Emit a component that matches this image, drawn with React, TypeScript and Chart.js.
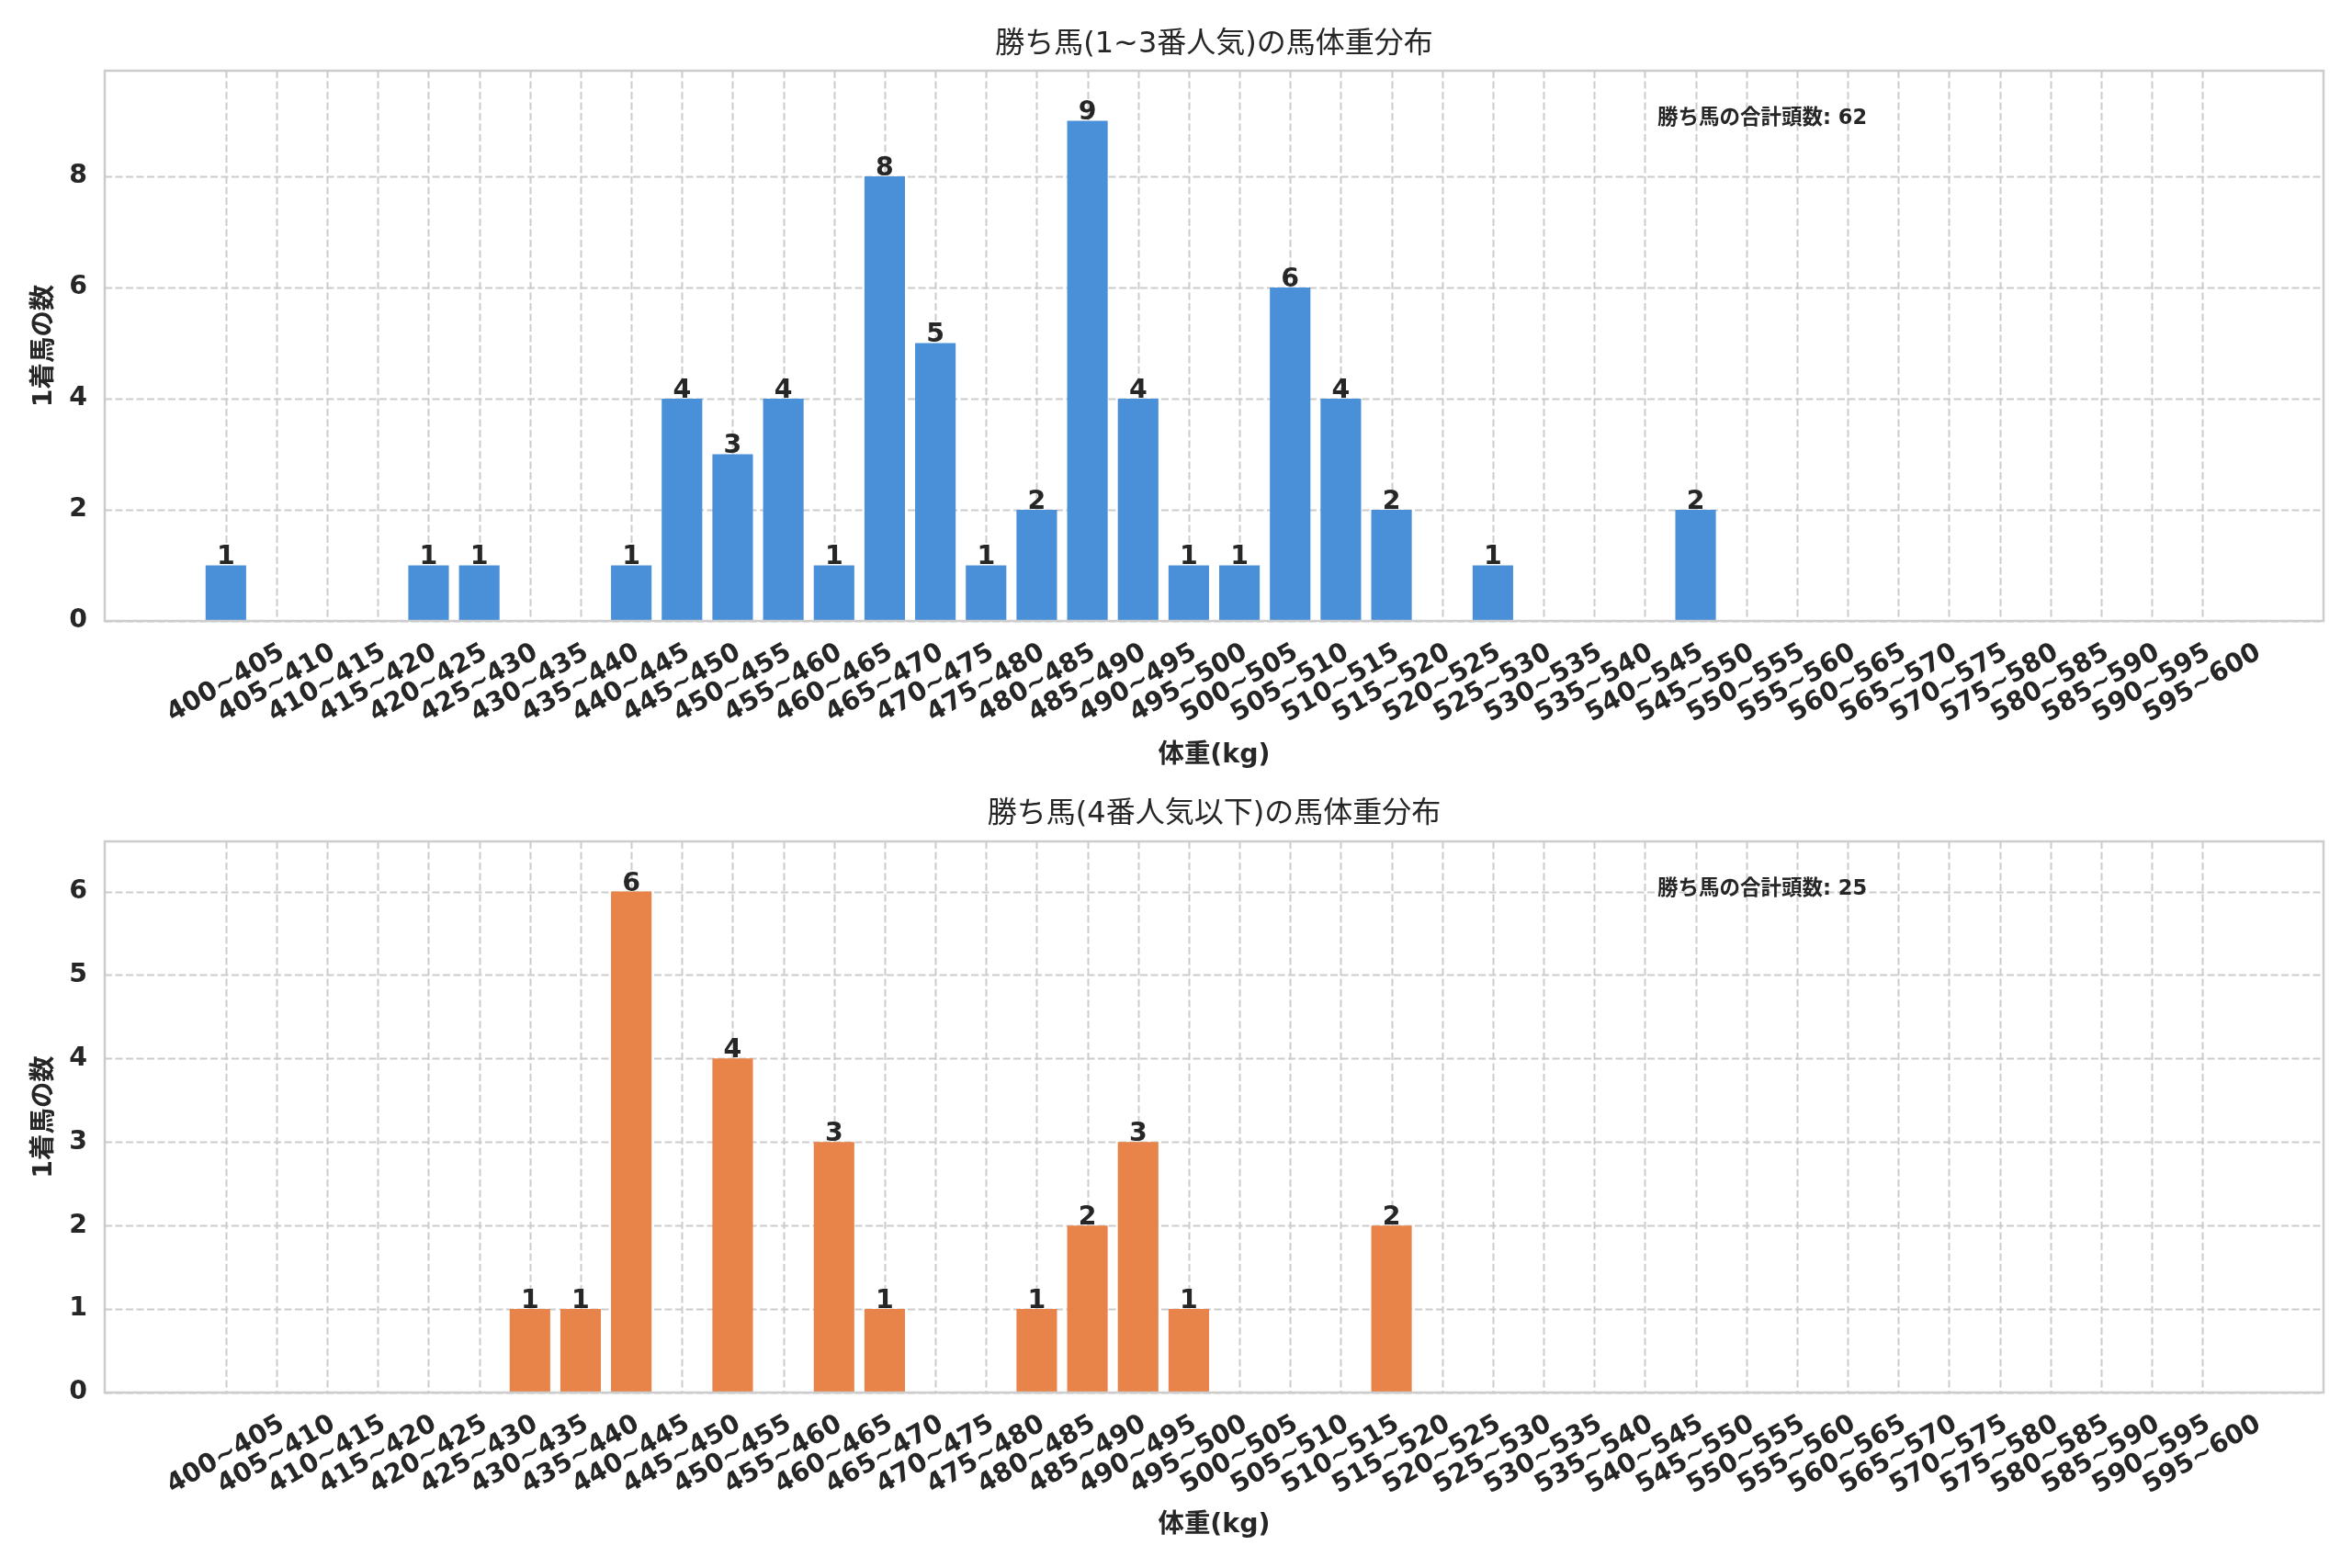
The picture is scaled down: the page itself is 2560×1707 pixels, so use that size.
import React, { useEffect, useRef } from "react";
import { Chart, registerables } from "chart.js";

Chart.register(...registerables);

// ---------- data ----------
const categories = [
  "400~405", "405~410", "410~415", "415~420", "420~425", "425~430", "430~435", "435~440",
  "440~445", "445~450", "450~455", "455~460", "460~465", "465~470", "470~475", "475~480",
  "480~485", "485~490", "490~495", "495~500", "500~505", "505~510", "510~515", "515~520",
  "520~525", "525~530", "530~535", "535~540", "540~545", "545~550", "550~555", "555~560",
  "560~565", "565~570", "570~575", "575~580", "580~585", "585~590", "590~595", "595~600",
];

const countsPopular = [
  1, 0, 0, 0, 1, 1, 0, 0, 1, 4,
  3, 4, 1, 8, 5, 1, 2, 9, 4, 1,
  1, 6, 4, 2, 0, 1, 0, 0, 0, 2,
  0, 0, 0, 0, 0, 0, 0, 0, 0, 0,
];

const countsLongshot = [
  0, 0, 0, 0, 0, 0, 1, 1, 6, 0,
  4, 0, 3, 1, 0, 0, 1, 2, 3, 1,
  0, 0, 0, 2, 0, 0, 0, 0, 0, 0,
  0, 0, 0, 0, 0, 0, 0, 0, 0, 0,
];

const yTicksPopular = [0, 2, 4, 6, 8];
const yTicksLongshot = [0, 1, 2, 3, 4, 5, 6];

const titlePopular = "勝ち馬(1~3番人気)の馬体重分布";
const titleLongshot = "勝ち馬(4番人気以下)の馬体重分布";
const xAxisTitle = "体重(kg)";
const yAxisTitle = "1着馬の数";
const notePrefix = "勝ち馬の合計頭数";

// ---------- style ----------
const FONT = '"DejaVu Sans", "Noto Sans CJK JP", sans-serif';
const TEXT = "#262626";
const GRID = "#cccccc";
const W = 2560;
const PLOT_LEFT = 114;
const PLOT_RIGHT = 2529;
const TICK_SIZE = 28.4;

type PanelProps = {
  top: number;
  height: number;
  values: number[];
  color: string;
  title: string;
  yMax: number;
  yTicks: number[];
  plotTop: number;
  plotBottom: number;
  titleY: number;
  xTitleY: number;
  noteY: number;
};

function Panel(p: PanelProps) {
  const ref = useRef<HTMLCanvasElement | null>(null);

  useEffect(() => {
    const canvas = ref.current;
    if (!canvas) return;
    const total = p.values.reduce((a, b) => a + b, 0);

    const decor = {
      id: "decor",
      beforeDatasetsDraw(chart: any) {
        const ctx = chart.ctx;
        const area = chart.chartArea;
        const xs = chart.scales.x;
        const ys = chart.scales.y;
        ctx.save();
        ctx.strokeStyle = GRID;
        ctx.lineWidth = 2;
        ctx.setLineDash([8, 3.5]);
        for (const t of p.yTicks) {
          const y = Math.round(ys.getPixelForValue(t)) + 0.5;
          ctx.beginPath();
          ctx.moveTo(area.left, y);
          ctx.lineTo(area.right, y);
          ctx.stroke();
        }
        for (let i = 0; i < categories.length; i++) {
          const x = Math.round(xs.getPixelForValue(i)) + 0.5;
          ctx.beginPath();
          ctx.moveTo(x, area.top);
          ctx.lineTo(x, area.bottom);
          ctx.stroke();
        }
        ctx.restore();
      },
      afterDatasetsDraw(chart: any) {
        const ctx = chart.ctx;
        const area = chart.chartArea;
        const xs = chart.scales.x;
        const ys = chart.scales.y;
        ctx.save();
        // frame
        ctx.strokeStyle = GRID;
        ctx.lineWidth = 2.5;
        ctx.setLineDash([]);
        ctx.strokeRect(area.left, area.top, area.right - area.left, area.bottom - area.top);

        // bar value labels
        ctx.fillStyle = TEXT;
        ctx.font = `bold ${TICK_SIZE}px ${FONT}`;
        ctx.textAlign = "center";
        ctx.textBaseline = "alphabetic";
        p.values.forEach((v, i) => {
          if (v > 0) {
            ctx.fillText(String(v), xs.getPixelForValue(i), ys.getPixelForValue(v) - 1);
          }
        });

        // x tick labels (rotated 30°, centered on tick)
        const ang = (30 * Math.PI) / 180;
        const h = 29;
        categories.forEach((lab, i) => {
          const w = ctx.measureText(lab).width;
          const H = w * Math.sin(ang) + h * Math.cos(ang);
          const cx = xs.getPixelForValue(i);
          const cy = area.bottom + 20 + H / 2;
          ctx.save();
          ctx.translate(cx, cy);
          ctx.rotate(-ang);
          ctx.textAlign = "center";
          ctx.textBaseline = "middle";
          ctx.fillText(lab, 0, 0);
          ctx.restore();
        });

        // x axis title
        ctx.textAlign = "center";
        ctx.textBaseline = "middle";
        ctx.fillText(xAxisTitle, (area.left + area.right) / 2, p.xTitleY);

        // y axis title
        ctx.save();
        ctx.translate(49, (area.top + area.bottom) / 2);
        ctx.rotate(-Math.PI / 2);
        ctx.fillText(yAxisTitle, 0, 0);
        ctx.restore();

        // title
        ctx.font = `32px ${FONT}`;
        ctx.fillText(p.title, (area.left + area.right) / 2, p.titleY);

        // note
        ctx.font = `bold 22.5px ${FONT}`;
        ctx.textAlign = "left";
        ctx.fillText(`${notePrefix}: ${total}`, 1804, p.noteY);
        ctx.restore();
      },
    };

    const chart = new Chart(canvas, {
      type: "bar",
      data: {
        datasets: [
          {
            data: p.values.map((v, i) => ({ x: i, y: v })),
            backgroundColor: p.color,
            borderWidth: 0,
            barPercentage: 0.8,
            categoryPercentage: 1.0,
          },
        ],
      },
      options: {
        responsive: false,
        animation: false,
        devicePixelRatio: 1,
        layout: { padding: { top: p.plotTop, right: W - PLOT_RIGHT, left: 0, bottom: 0 } },
        plugins: {
          legend: { display: false },
          title: { display: false },
          tooltip: { enabled: false },
        },
        scales: {
          x: {
            type: "linear",
            offset: false,
            min: -2.39,
            max: categories.length - 1 + 2.39,
            grid: { display: false, drawTicks: false, offset: false },
            border: { display: false },
            ticks: { display: false },
            afterBuildTicks: (s: any) => {
              s.ticks = categories.map((_, i) => ({ value: i }));
            },
            afterFit: (s: any) => {
              s.height = p.height - p.plotBottom;
            },
          },
          y: {
            min: 0,
            max: p.yMax,
            grid: { display: false, drawTicks: false },
            border: { display: false },
            ticks: {
              color: TEXT,
              padding: 19,
              font: { family: FONT, size: TICK_SIZE, weight: "bold" },
            },
            afterBuildTicks: (s: any) => {
              s.ticks = p.yTicks.map((v) => ({ value: v }));
            },
            afterFit: (s: any) => {
              s.width = PLOT_LEFT;
            },
          },
        },
      },
      plugins: [decor],
    } as any);

    return () => chart.destroy();
  }, []);

  return (
    <canvas
      ref={ref}
      width={W}
      height={p.height}
      style={{ position: "absolute", left: 0, top: p.top, width: W, height: p.height, display: "block" }}
    />
  );
}

export default function App() {
  return (
    <div style={{ position: "absolute", left: 0, top: 0, width: W, height: 1707, background: "#ffffff" }}>
      <Panel
        top={0}
        height={853}
        values={countsPopular}
        color="#4a90d9"
        title={titlePopular}
        yMax={9.9}
        yTicks={yTicksPopular}
        plotTop={77}
        plotBottom={676}
        titleY={49}
        xTitleY={823}
        noteY={129}
      />
      <Panel
        top={853}
        height={854}
        values={countsLongshot}
        color="#e8834a"
        title={titleLongshot}
        yMax={6.6}
        yTicks={yTicksLongshot}
        plotTop={63}
        plotBottom={663}
        titleY={34}
        xTitleY={808}
        noteY={115}
      />
    </div>
  );
}
